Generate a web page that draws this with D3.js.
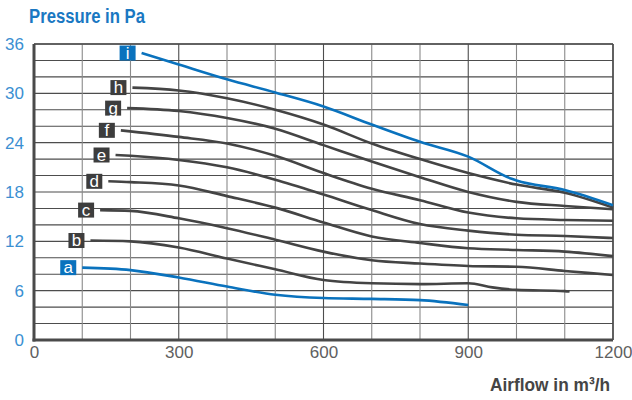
<!DOCTYPE html>
<html>
<head>
<meta charset="utf-8">
<script src="https://cdn.jsdelivr.net/npm/d3@7"></script>
<style>
  html, body { margin: 0; padding: 0; background: #fff; }
  svg { display: block; }
</style>
</head>
<body>
<svg id="chart" width="632" height="400"></svg>
<script>
// Fan curves: airflow (m³/h) against pressure (Pa), one array per speed step.
const curveA = [[100, 8.8], [200, 8.5], [300, 7.6], [400, 6.5], [500, 5.5], [600, 5.1], [700, 5.0], [800, 4.85], [900, 4.25]];
const curveB = [[117, 12.1], [200, 12.0], [300, 11.25], [400, 9.9], [500, 8.6], [600, 7.3], [700, 6.9], [800, 6.8], [900, 6.9], [950, 6.4], [1000, 6.1], [1100, 5.95], [1110, 5.9]];
const curveC = [[137, 15.8], [200, 15.7], [300, 14.8], [400, 13.6], [500, 12.2], [600, 10.75], [700, 9.7], [800, 9.3], [900, 9.0], [1000, 8.9], [1100, 8.4], [1200, 7.9]];
const curveD = [[154, 19.3], [200, 19.2], [300, 18.8], [400, 17.5], [500, 16.1], [600, 14.3], [700, 12.6], [800, 11.8], [900, 11.15], [1000, 10.95], [1100, 10.75], [1200, 10.2]];
const curveE = [[169, 22.5], [200, 22.4], [300, 21.9], [400, 21.0], [500, 19.5], [600, 17.7], [700, 15.8], [800, 14.1], [900, 13.3], [1000, 12.8], [1100, 12.65], [1200, 12.4]];
const curveF = [[180, 25.5], [300, 24.7], [400, 23.9], [500, 22.4], [600, 20.3], [700, 18.4], [800, 17.0], [900, 15.5], [1000, 14.8], [1100, 14.6], [1200, 14.5]];
const curveG = [[193, 28.2], [300, 27.85], [400, 27.0], [500, 25.7], [600, 23.7], [700, 21.7], [800, 19.8], [900, 18.0], [1000, 16.8], [1100, 16.3], [1200, 15.9]];
const curveH = [[204, 30.7], [300, 30.35], [400, 29.4], [500, 28.0], [600, 26.2], [700, 23.9], [800, 22.0], [900, 20.3], [1000, 18.9], [1100, 17.9], [1200, 16.1]];
const curveI = [[223, 34.9], [300, 33.5], [400, 31.7], [500, 30.1], [600, 28.4], [700, 26.2], [800, 24.1], [900, 22.3], [990, 19.6], [1000, 19.4], [1100, 18.25], [1200, 16.4]];

const curveNames = ["a", "b", "c", "d", "e", "f", "g", "h", "i"];
const curveData = [curveA, curveB, curveC, curveD, curveE, curveF, curveG, curveH, curveI];
const highlighted = ["a", "i"];

const xTicks = [0, 300, 600, 900, 1200];
const yTicks = [0, 6, 12, 18, 24, 30, 36];

const BLUE = "#0a72bd";
const DARK = "#444444";

const svg = d3.select("#chart");
const x = d3.scaleLinear().domain([0, 1200]).range([34, 613]);
const y = d3.scaleLinear().domain([0, 36]).range([340, 44]);

// grid
const grid = svg.append("g");
grid.selectAll("line.h")
  .data(d3.range(2, 37, 2))
  .join("line")
  .attr("x1", x(0)).attr("x2", x(1200))
  .attr("y1", d => y(d)).attr("y2", d => y(d))
  .attr("stroke", "#4d4d4d").attr("stroke-width", 1.1);
grid.selectAll("line.v")
  .data(d3.range(100, 1201, 100))
  .join("line")
  .attr("y1", y(0)).attr("y2", y(36))
  .attr("x1", d => x(d)).attr("x2", d => x(d))
  .attr("stroke", d => (d % 300 === 0 ? "#4d4d4d" : "#8a8a8a"))
  .attr("stroke-width", 1.1);

// frame
svg.append("line").attr("x1", x(0)).attr("x2", x(1200)).attr("y1", y(36)).attr("y2", y(36))
  .attr("stroke", "#4d4d4d").attr("stroke-width", 1.5);
svg.append("line").attr("x1", x(1200)).attr("x2", x(1200)).attr("y1", y(0)).attr("y2", y(36))
  .attr("stroke", "#4d4d4d").attr("stroke-width", 1.5);

// axes
const yAxis = svg.append("g")
  .attr("transform", `translate(${x(0)},0)`)
  .call(d3.axisLeft(y).tickValues(yTicks).tickSize(0).tickPadding(10).tickFormat(d3.format("d")));
yAxis.select(".domain").remove();
yAxis.selectAll("text")
  .attr("fill", "#3b8fd2")
  .attr("font-family", "'Liberation Sans', Arial, sans-serif")
  .attr("font-size", 17);

const xAxis = svg.append("g")
  .attr("transform", `translate(0,${y(0)})`)
  .call(d3.axisBottom(x).tickValues(xTicks).tickSize(0).tickPadding(6).tickFormat(d3.format("d")));
xAxis.select(".domain").remove();
xAxis.selectAll("text")
  .attr("fill", "#606060")
  .attr("font-family", "'Liberation Sans', Arial, sans-serif")
  .attr("font-size", 17);

svg.append("line").attr("x1", x(0)).attr("x2", x(0)).attr("y1", y(36)).attr("y2", y(0) + 1.5)
  .attr("stroke", "#4a4a4a").attr("stroke-width", 3);
svg.append("line").attr("x1", x(0) - 1.5).attr("x2", x(1200)).attr("y1", y(0)).attr("y2", y(0))
  .attr("stroke", "#4a4a4a").attr("stroke-width", 3);

// curves
const line = d3.line()
  .x(d => x(d[0]))
  .y(d => y(d[1]))
  .curve(d3.curveMonotoneX);

const series = curveNames.map((name, i) => ({ name, points: curveData[i], blue: highlighted.includes(name) }));

svg.append("g").selectAll("path")
  .data(series)
  .join("path")
  .attr("d", d => line(d.points))
  .attr("fill", "none")
  .attr("stroke", d => (d.blue ? BLUE : DARK))
  .attr("stroke-width", 2.6)
  .attr("stroke-linecap", "butt");

// letter tags at the start of each curve
const tags = svg.append("g").selectAll("g")
  .data(series)
  .join("g")
  .attr("transform", d => `translate(${x(d.points[0][0]) - 6 - 16},${y(d.points[0][1]) - 7.5})`);
tags.append("rect")
  .attr("width", 16).attr("height", 15)
  .attr("fill", d => (d.blue ? BLUE : "#3d3d3d"));
tags.append("text")
  .attr("x", 8).attr("y", 13)
  .attr("text-anchor", "middle")
  .attr("fill", "#fff")
  .attr("font-family", "'Liberation Sans Narrow', 'Liberation Sans', Arial, sans-serif")
  .attr("font-size", 17)
  .text(d => d.name);

// titles
svg.append("text")
  .attr("x", 29).attr("y", 23)
  .attr("fill", "#1a78c2")
  .attr("font-family", "'Liberation Sans Narrow', 'Liberation Sans', Arial, sans-serif")
  .attr("font-weight", "bold")
  .attr("font-size", 20)
  .attr("textLength", 116)
  .attr("lengthAdjust", "spacingAndGlyphs")
  .text("Pressure in Pa");

svg.append("text")
  .attr("x", 610).attr("y", 391)
  .attr("text-anchor", "end")
  .attr("fill", "#454545")
  .attr("font-family", "'Liberation Sans Narrow', 'Liberation Sans', Arial, sans-serif")
  .attr("font-weight", "bold")
  .attr("font-size", 19)
  .attr("textLength", 120)
  .attr("lengthAdjust", "spacingAndGlyphs")
  .text("Airflow in m³/h");
</script>
</body>
</html>
